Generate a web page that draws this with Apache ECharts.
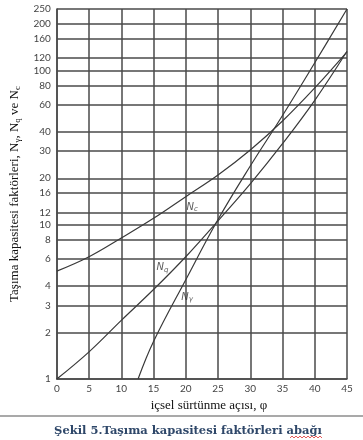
<!DOCTYPE html>
<html>
<head>
<meta charset="utf-8">
<script src="https://cdn.jsdelivr.net/npm/echarts@6/dist/echarts.min.js"></script>
<style>
html,body{margin:0;padding:0;background:#fff;}
#c{width:363px;height:440px;}
</style>
</head>
<body>
<div id="c"></div>
<script>
// ---- data ----
const phi = [0, 5, 10, 15, 20, 25, 30, 35, 40, 45];
const Nc = [5.0, 6.2, 8.2, 11.0, 15.2, 21.0, 30.5, 47, 77, 132];
const Nq = [1.0, 1.5, 2.4, 3.8, 6.2, 10.6, 18.4, 33.5, 64, 133];
const phiG = [12.6, 15, 20, 25, 30, 35, 40, 45];
const Ng = [1, 1.75, 4.4, 10.8, 24, 51, 112, 250];
const yTicks = [1, 2, 3, 4, 6, 8, 10, 12, 16, 20, 30, 40, 60, 80, 100, 120, 160, 200, 250];
const curveLabels = [
  {name: 'c', phi: 21.0, v: 13.0},
  {name: 'q', phi: 16.4, v: 5.3},
  {name: 'γ', phi: 20.2, v: 3.4}
];
const yTitle = 'Taşıma kapasitesi faktörleri, N{s|γ}, N{s|q} ve N{s|c}';
const xTitle = 'içsel sürtünme açısı, φ';
const caption = 'Şekil 5.Taşıma kapasitesi faktörleri abağı';

const chart = echarts.init(document.getElementById('c'), null, {renderer: 'canvas'});
const pair = (xs, ys) => xs.map((x, i) => [x, ys[i]]);
const gridColor = '#4a4a4a';
const lineStyle = {color: '#3a3a3a', width: 1.2};

// squiggle under "abağı"
const sq = [];
for (let i = 0; i <= 16; i++) sq.push([290 + i * 2, 437 + (i % 2 ? -1 : 1)]);

chart.setOption({
  animation: false,
  backgroundColor: '#fff',
  grid: {left: 53, right: 16, top: 9, bottom: 61, containLabel: false},
  xAxis: {
    type: 'value', min: 0, max: 45, interval: 5,
    axisLine: {show: true, onZero: false, lineStyle: {color: gridColor, width: 1.5}},
    axisTick: {show: false},
    splitLine: {show: true, lineStyle: {color: gridColor, width: 1.5}},
    axisLabel: {color: '#444', fontFamily: 'Lato', fontSize: 10, margin: 5},
    name: xTitle, nameLocation: 'middle', nameGap: 19,
    nameTextStyle: {fontFamily: 'Liberation Serif', fontSize: 13, color: '#111', padding: [0, 0, 0, 14]}
  },
  yAxis: {
    type: 'log', logBase: 10, min: 1, max: 250,
    axisLine: {show: true, lineStyle: {color: gridColor, width: 1.5}},
    axisTick: {show: false, customValues: yTicks},
    splitLine: {show: true, lineStyle: {color: gridColor, width: 1.5}},
    axisLabel: {customValues: yTicks, color: '#444', fontFamily: 'Lato', fontSize: 10, margin: 6},
    name: yTitle, nameLocation: 'middle', nameGap: 31, nameRotate: 90,
    nameTextStyle: {
      fontFamily: 'Liberation Serif', fontSize: 13, color: '#111',
      rich: {s: {fontFamily: 'Liberation Serif', fontSize: 9, color: '#111', verticalAlign: 'bottom', padding: [7, 0, 0, 0]}}
    }
  },
  series: [
    {type: 'line', name: 'Nc', data: pair(phi, Nc), smooth: 0.4, showSymbol: false, lineStyle: lineStyle},
    {type: 'line', name: 'Nq', data: pair(phi, Nq), smooth: 0.4, showSymbol: false, lineStyle: lineStyle},
    {type: 'line', name: 'Ng', data: pair(phiG, Ng), smooth: 0.4, showSymbol: false, lineStyle: lineStyle},
    {
      type: 'scatter', symbolSize: 0, silent: true,
      data: curveLabels.map(d => ({value: [d.phi, d.v], sub: d.name})),
      label: {
        show: true, position: 'inside',
        formatter: p => '{n|N}{s|' + p.data.sub + '}',
        rich: {
          n: {fontFamily: 'DejaVu Sans', fontStyle: 'italic', fontSize: 10, color: '#333'},
          s: {fontFamily: 'DejaVu Sans', fontStyle: 'italic', fontSize: 7, color: '#333', verticalAlign: 'bottom', padding: [5, 0, 0, 0]}
        }
      }
    }
  ],
  graphic: [
    {type: 'line', shape: {x1: 0, y1: 416, x2: 363, y2: 416}, style: {stroke: '#555', lineWidth: 1.2}},
    {type: 'text', x: 188, y: 431, style: {text: caption, font: 'bold 11.5px "DejaVu Serif"', fill: '#2e4769', align: 'center', verticalAlign: 'middle'}},
    {type: 'polyline', shape: {points: sq}, style: {stroke: '#e03030', lineWidth: 0.8, fill: null}}
  ]
});
</script>
</body>
</html>
